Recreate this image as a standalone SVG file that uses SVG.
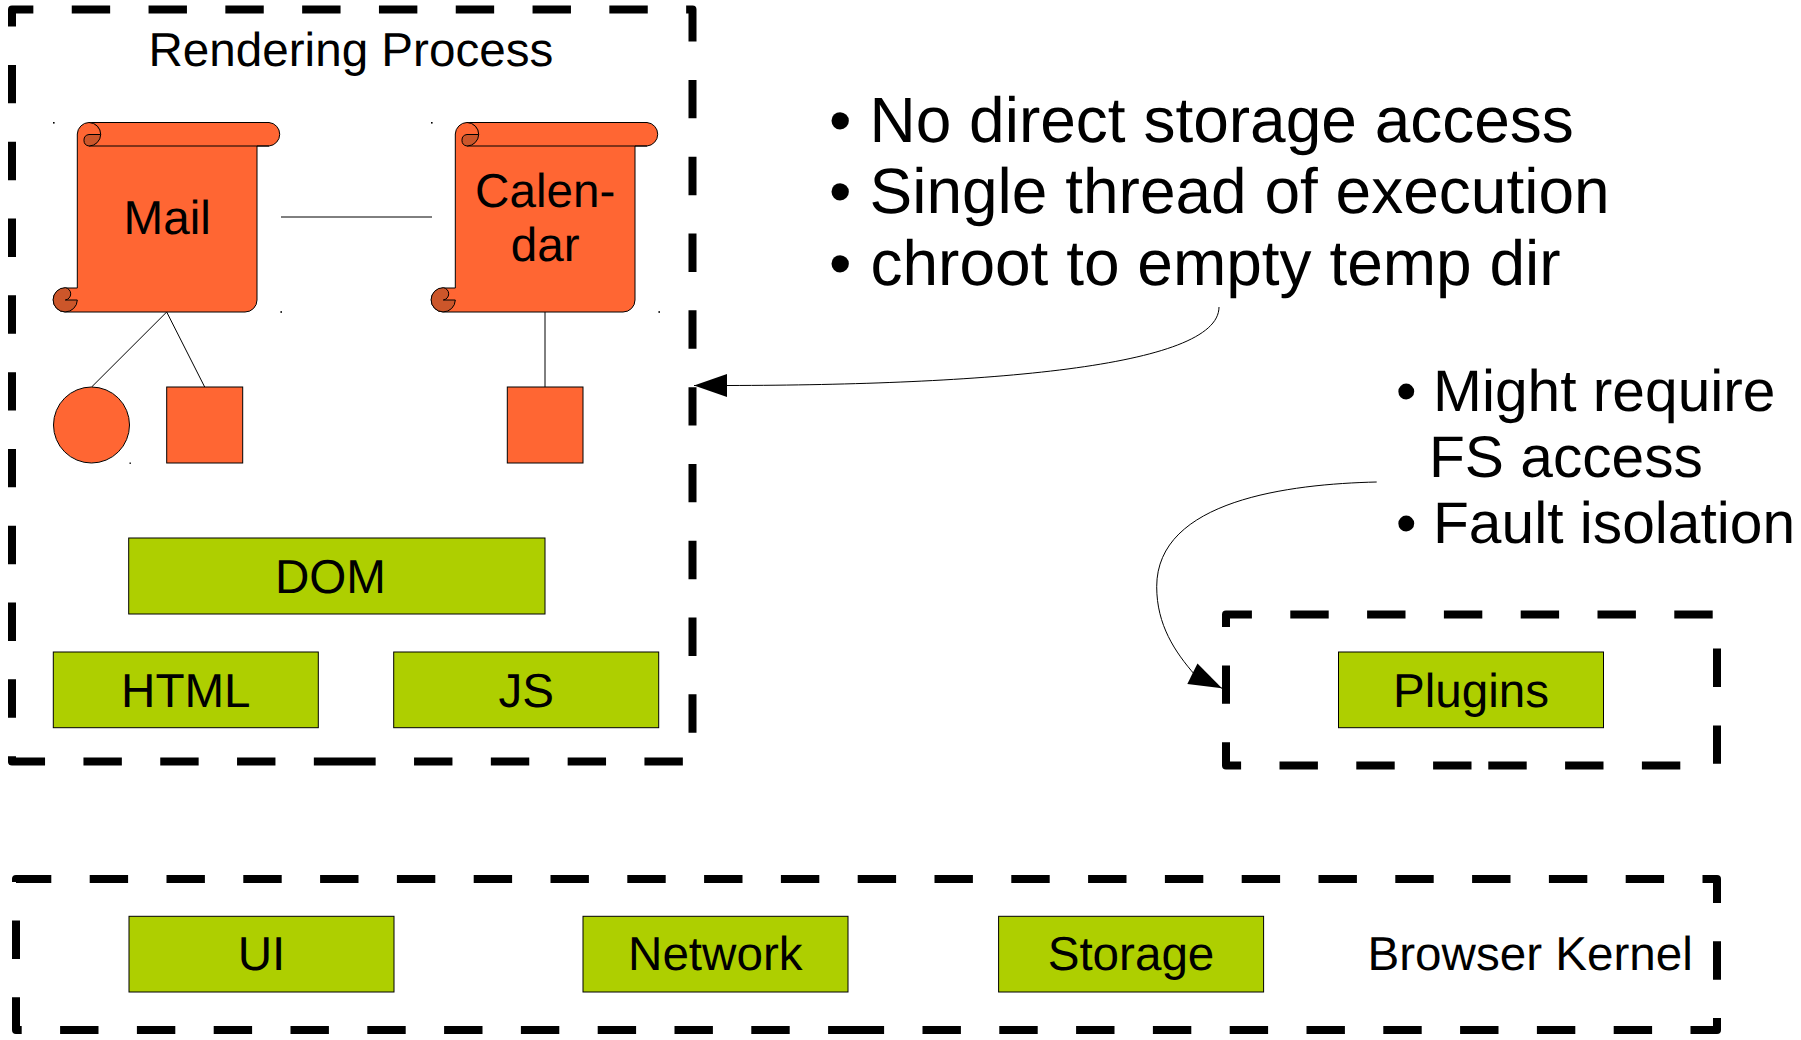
<svg xmlns="http://www.w3.org/2000/svg" xmlns:xlink="http://www.w3.org/1999/xlink" width="1801" height="1040" viewBox="0 0 1801 1040">
<style>
text{font-family:"Liberation Sans",Arial,sans-serif;fill:#000;text-rendering:geometricPrecision}
.t48{font-size:47.6px}
.mid{text-anchor:middle}
.t64{font-size:64px}
.t58{font-size:58.7px}
.frame{fill:none;stroke:#000;stroke-width:8;stroke-dasharray:38.4 38.4;stroke-linejoin:round}
.box{fill:#aecf00;stroke:#000;stroke-width:1}
.shape{fill:#ff6633;stroke:#000;stroke-width:1}
.dark{fill:#cc562a;stroke:#000;stroke-width:1}
.link{fill:none;stroke:#000;stroke-width:1}
.arrow{fill:none;stroke:#000;stroke-width:1;marker-end:url(#head)}
.dot{fill:#000}
</style>
<defs>
<marker id="head" markerUnits="userSpaceOnUse" markerWidth="34" markerHeight="24" refX="33" refY="12" orient="auto" overflow="visible">
<path d="M0 0.5L33 12L0 23.5Z" fill="#000"/>
</marker>
<g id="scroll">
<path class="shape" d="M65.3 312H245A12 12 0 0 0 257 300V146H269A11.8 11.8 0 0 0 269 122.5H89A12 12 0 0 0 77.3 134V288H65.3A12 12 0 0 0 65.3 312Z"/>
<path class="shape" style="fill:none" d="M89 146H269"/>
<path d="M89 122.5A12 12 0 0 1 100.7 134.5A15 15 0 0 0 89 122.5Z" fill="#cc562a"/>
<path class="shape" style="fill:none" d="M89 122.5A11.8 11.8 0 0 1 100.7 134.5"/>
<path class="dark" d="M100.7 134.5H89A5.8 5.8 0 0 0 89 146A11.8 11.8 0 0 0 100.7 134.5Z"/>
<path class="dark" d="M77.3 300H65.3A6.2 6.2 0 0 0 65.3 287.7A12.1 12.1 0 1 0 77.3 300Z"/>
<rect class="dot" x="53" y="122" width="1.6" height="1.6"/>
<rect class="dot" x="280.4" y="311.2" width="1.6" height="1.6"/>
</g>
</defs>
<rect width="1801" height="1040" fill="#fff"/>

<g id="connectors">
<path class="link" d="M281 217H432"/>
<path class="link" d="M166.7 312L91.6 387"/>
<path class="link" d="M166.7 312L204.7 387"/>
<path class="link" d="M545 312V387"/>
<path class="arrow" d="M1219 307C1219 368 980 385 728 385.5L694 385.5"/>
<path class="arrow" d="M1376.7 482C1290 484 1156.7 500 1156.7 586.7C1156.7 625 1175 652 1195 675L1222 688.3"/>
</g>

<g id="rendering-process">
<path class="frame" d="M352.25 761.5H12V9.5H692.5V761.5Z"/>
<text class="t48" x="148.5" y="65.7">Rendering Process</text>
</g>
<g id="browser-kernel">
<path class="frame" d="M866.5 1030H16V879H1717V1030Z"/>
<text class="t48" x="1367.5" y="970">Browser Kernel</text>
</g>
<g id="plugins-frame">
<path class="frame" d="M1471.5 765.5H1226V614.5H1717V765.5Z"/>
</g>

<g id="mail">
<use xlink:href="#scroll" href="#scroll"/>
<text class="t48 mid" x="167.2" y="234">Mail</text>
</g>
<g id="calendar">
<use xlink:href="#scroll" href="#scroll" x="378"/>
<text class="t48 mid" x="545.2" y="206.7">Calen-</text>
<text class="t48 mid" x="545.2" y="260.7">dar</text>
</g>
<g id="circle">
<circle class="shape" cx="91.5" cy="425" r="38"/>
<rect class="dot" x="129.5" y="462.5" width="1.4" height="1.4"/>
</g>
<g id="square-mail"><rect class="shape" x="166.7" y="387" width="76" height="76"/></g>
<g id="square-calendar"><rect class="shape" x="507.3" y="387" width="75.7" height="76"/></g>

<g id="dom"><rect class="box" x="128.7" y="538" width="416.3" height="76"/><text class="t48 mid" x="330.5" y="593">DOM</text></g>
<g id="html"><rect class="box" x="53.3" y="652" width="265" height="75.7"/><text class="t48 mid" x="185.8" y="706.7">HTML</text></g>
<g id="js"><rect class="box" x="393.7" y="652" width="265" height="75.7"/><text class="t48 mid" x="526.2" y="706.7">JS</text></g>
<g id="plugins"><rect class="box" x="1338.5" y="652" width="265" height="75.7"/><text class="t48 mid" x="1471" y="706.7">Plugins</text></g>
<g id="ui"><rect class="box" x="129" y="916.3" width="265" height="75.7"/><text class="t48 mid" x="261.5" y="970">UI</text></g>
<g id="network"><rect class="box" x="583" y="916.3" width="265" height="75.7"/><text class="t48 mid" x="715.3" y="970">Network</text></g>
<g id="storage"><rect class="box" x="998.6" y="916.3" width="265" height="75.7"/><text class="t48 mid" x="1131" y="970">Storage</text></g>

<g id="notes-renderer">
<text class="t64" x="829" y="142">•</text><text class="t64" x="869.5" y="142">No direct storage access</text>
<text class="t64" x="829" y="213.3">•</text><text class="t64" x="869.5" y="213.3">Single thread of execution</text>
<text class="t64" x="829" y="284.5">•</text><text class="t64" x="870.5" y="284.5">chroot to empty temp dir</text>
</g>
<g id="notes-plugins">
<text class="t58" x="1396" y="411">•</text><text class="t58" x="1433" y="411">Might require</text>
<text class="t58" x="1429" y="477">FS access</text>
<text class="t58" x="1396" y="543">•</text><text class="t58" x="1433" y="543">Fault isolation</text>
</g>
</svg>
